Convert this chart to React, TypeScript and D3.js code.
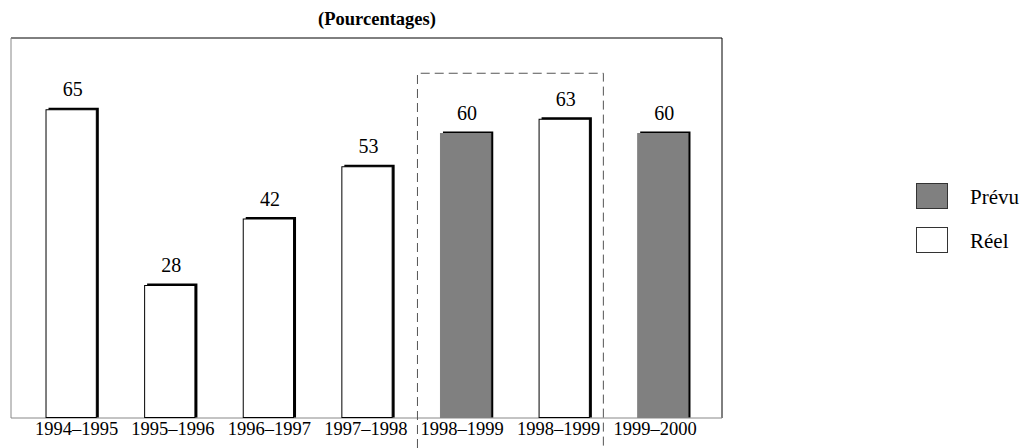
import React, { useEffect, useRef } from "react";
import * as d3 from "d3";

// data
const categories = ["1994–1995", "1995–1996", "1996–1997", "1997–1998", "1998–1999", "1998–1999", "1999–2000"];
const values = [65, 28, 42, 53, 60, 63, 60];
const seriesOf = ["Réel", "Réel", "Réel", "Réel", "Prévu", "Réel", "Prévu"];
const legendLabels = ["Prévu", "Réel"];
const boxed = [4, 5];
const title = "(Pourcentages)";

const colors: Record<string, string> = { "Prévu": "#808080", "Réel": "#ffffff" };
const font = "'Liberation Serif', 'Times New Roman', serif";

export default function App() {
  const ref = useRef<SVGSVGElement>(null);

  useEffect(() => {
    const W = 1026, H = 448;
    const frame = { left: 11, right: 722, top: 38, bottom: 418 };
    const svg = d3.select(ref.current).attr("width", W).attr("height", H);
    svg.selectAll("*").remove();

    const idx = d3.range(categories.length);
    const x = d3.scaleBand<number>().domain(idx).range([frame.left, frame.right]).paddingInner(0.49).paddingOuter(0.35);
    const xLab = d3.scalePoint<number>().domain(idx).range([76.5, 655]);
    const y = d3.scaleLinear().domain([0, 80]).range([frame.bottom, frame.top]);
    const bw = x.bandwidth();

    // title
    svg.append("text")
      .attr("x", 377).attr("y", 25)
      .attr("text-anchor", "middle")
      .attr("font-family", font).attr("font-weight", "bold").attr("font-size", 18.5)
      .text(title);

    // frame: light left/bottom, dark top/right
    svg.append("line").attr("x1", frame.left).attr("x2", frame.right).attr("y1", frame.top).attr("y2", frame.top).attr("stroke", "#000");
    svg.append("line").attr("x1", frame.right).attr("x2", frame.right).attr("y1", frame.top).attr("y2", frame.bottom).attr("stroke", "#000");
    svg.append("line").attr("x1", frame.left).attr("x2", frame.left).attr("y1", frame.top).attr("y2", frame.bottom).attr("stroke", "#888");
    svg.append("line").attr("x1", frame.left).attr("x2", frame.right).attr("y1", frame.bottom).attr("y2", frame.bottom).attr("stroke", "#888");

    const g = svg.append("g");

    // shadows
    g.selectAll(".shadow")
      .data(values)
      .join("rect")
      .attr("class", "shadow")
      .attr("x", (d, i) => x(i)! + 3)
      .attr("y", (d) => y(d) - 1.5)
      .attr("width", bw)
      .attr("height", (d) => y(0) - y(d) + 1)
      .attr("fill", "#000");

    // bars
    g.selectAll(".bar")
      .data(values)
      .join("rect")
      .attr("class", "bar")
      .attr("x", (d, i) => x(i)! + 0.5)
      .attr("y", (d) => y(d) + 0.5)
      .attr("width", bw)
      .attr("height", (d) => y(0) - y(d) - 1)
      .attr("fill", (d, i) => colors[seriesOf[i]])
      .attr("stroke", (d, i) => (seriesOf[i] === "Réel" ? "#000" : "#808080"))
      .attr("stroke-width", 1);

    // value labels
    g.selectAll(".val")
      .data(values)
      .join("text")
      .attr("class", "val")
      .attr("x", (d, i) => x(i)! + bw / 2 + 2)
      .attr("y", (d) => y(d) - 13)
      .attr("text-anchor", "middle")
      .attr("font-family", font).attr("font-size", 20)
      .text((d) => d);

    // category labels
    g.selectAll(".cat")
      .data(categories)
      .join("text")
      .attr("class", "cat")
      .attr("x", (d, i) => xLab(i)!)
      .attr("y", 435)
      .attr("text-anchor", "middle")
      .attr("font-family", font).attr("font-size", 18.5)
      .text((d) => d);

    // dashed box round the 1998-1999 pair
    const bx0 = x(boxed[0])! - 23;
    const bx1 = x(boxed[boxed.length - 1])! + bw + 14;
    const by0 = y(d3.max(boxed, (i) => values[i])!) - 46;
    svg.append("path")
      .attr("d", `M${bx0 + 0.5},${H} V${by0 + 0.5} H${bx1 + 0.5} V${H}`)
      .attr("fill", "none")
      .attr("stroke", "#555")
      .attr("stroke-width", 1)
      .attr("stroke-dasharray", "9,5");

    // legend
    const leg = svg.append("g").attr("transform", "translate(916,183)");
    legendLabels.forEach((lab, i) => {
      const row = leg.append("g").attr("transform", `translate(0, ${i * 44})`);
      row.append("rect")
        .attr("x", 0.5).attr("y", 0.5)
        .attr("width", 31).attr("height", 25)
        .attr("fill", colors[lab]).attr("stroke", "#333");
      row.append("text")
        .attr("x", 54).attr("y", 21)
        .attr("font-family", font).attr("font-size", 21)
        .text(lab);
    });
  }, []);

  return <svg ref={ref} style={{ position: "absolute", left: 0, top: 0 }}></svg>;
}
